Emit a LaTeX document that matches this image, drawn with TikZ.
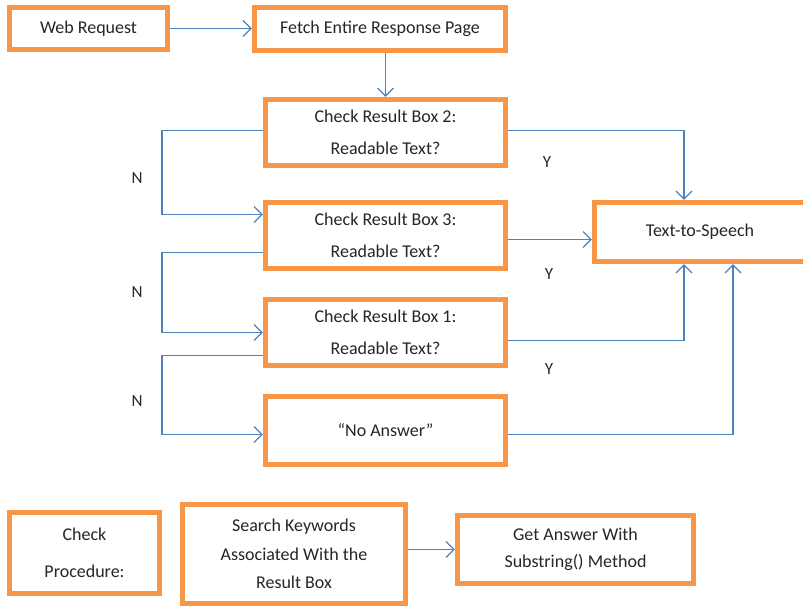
\documentclass[tikz,border=0pt]{standalone}
\usepackage{fontspec}
\setmainfont{Carlito}
\usetikzlibrary{arrows.meta,calc,positioning}
\definecolor{boxorange}{HTML}{F79646}
\definecolor{lineblue}{HTML}{4F81BD}

\begin{document}
\begin{tikzpicture}[x=0.5pt, y=-0.5pt,
  stage/.style={draw=boxorange, line width=2.6pt, fill=white, inner sep=0pt, align=center, text=black!85, font=\fontsize{9}{16}\selectfont},
  flow/.style={draw=lineblue, line width=0.6pt, -{Straight Barb[length=4pt,width=8pt]}},
  link/.style={draw=lineblue, line width=0.6pt},
  branch/.style={text=black!85, font=\fontsize{8.5}{10}\selectfont}]

\useasboundingbox (0,0) rectangle (803,609);

% STAGES

\node [stage, minimum width=79pt, minimum height=21pt] (web-request) at (88.5,28.5) {Web Request};

\node [stage, minimum width=125.5pt, minimum height=21.5pt] (fetch-page) at (380,29) {Fetch Entire Response Page};

\node [stage, minimum width=120pt, minimum height=33pt] (check-box2) at (385.5,132.5) {Check Result Box 2:\\Readable Text?};

\node [stage, minimum width=120pt, minimum height=33pt] (check-box3) at (385.5,235.5) {Check Result Box 3:\\Readable Text?};

\node [stage, minimum width=120pt, minimum height=33pt] (check-box1) at (385.5,332.5) {Check Result Box 1:\\Readable Text?};

\node [stage, minimum width=120pt, minimum height=34pt] (no-answer) at (385.5,430.5) {“No Answer”};

\node [stage, minimum width=105.5pt, minimum height=29.5pt] (text-to-speech) at (700,232) {Text-to-Speech};

% CHECK PROCEDURE

\node [stage, minimum width=75pt, minimum height=40.5pt, font=\fontsize{9}{18.5}\selectfont] (procedure) at (84.5,553) {Check\\Procedure:};

\node [stage, minimum width=111.5pt, minimum height=49.5pt, font=\fontsize{9}{14.2}\selectfont] (search-keywords) at (294,554) {Search Keywords\\Associated With the\\Result Box};

\node [stage, minimum width=118pt, minimum height=34pt, font=\fontsize{9}{13.5}\selectfont] (get-answer) at (575.5,549.5) {Get Answer With\\Substring() Method};

% CONNECTORS

\coordinate (left-rail) at (162,0);
\coordinate (yes-rail) at (684,0);
\coordinate (none-rail) at (733,0);

\draw [flow] (web-request.east) -- (web-request.east -| fetch-page.west);
\draw [flow] (fetch-page.south -| check-box2.north) -- (check-box2.north);

\draw [flow] ($(check-box2.east)+(0,-2)$) -| (yes-rail |- text-to-speech.north);
\draw [flow] ($(check-box3.east)+(0,4)$) coordinate (box3-yes) -- (box3-yes -| text-to-speech.west);
\draw [flow] ($(check-box1.east)+(0,8)$) -| (yes-rail |- text-to-speech.south);
\draw [flow] ($(no-answer.east)+(0,4)$) -| (none-rail |- text-to-speech.south);

\draw [flow] ($(check-box2.west)+(0,-2)$) coordinate (box2-no) -- (box2-no -| left-rail) |- ($(check-box3.west)+(0,-21)$);
\draw [flow] ($(check-box3.west)+(0,17)$) coordinate (box3-no) -- (box3-no -| left-rail) |- (check-box1.west);
\draw [flow] ($(check-box1.west)+(0,23)$) coordinate (box1-no) -- (box1-no -| left-rail) |- ($(no-answer.west)+(0,4)$);

\draw [flow] (get-answer.west -| search-keywords.east) -- (get-answer.west);

% LABELS

\node [branch] (no-1) at (137,178) {N};
\node [branch] (no-2) at (137,292) {N};
\node [branch] (no-3) at (137,401) {N};
\node [branch] (yes-1) at (547,162) {Y};
\node [branch] (yes-2) at (549,274) {Y};
\node [branch] (yes-3) at (549,369) {Y};

\end{tikzpicture}
\end{document}
